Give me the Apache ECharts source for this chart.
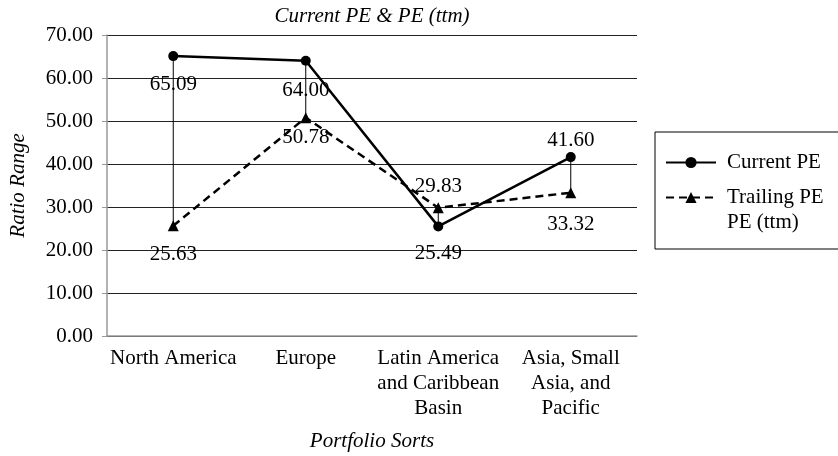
<!DOCTYPE html>
<html>
<head>
<meta charset="utf-8">
<script src="https://cdn.jsdelivr.net/npm/echarts@6/dist/echarts.min.js"></script>
<style>
  html, body { margin: 0; padding: 0; background: #fff; }
  #chart { width: 838px; height: 456px; }
</style>
</head>
<body>
<div id="chart"></div>
<script>
// Regions sorted into portfolios
const categories = [
  'North America',
  'Europe',
  'Latin America\nand Caribbean\nBasin',
  'Asia, Small\nAsia, and\nPacific'
];
// Price/earnings ratios per region
const currentPE = [65.09, 64.00, 25.49, 41.60];
const trailingPE = [25.63, 50.78, 29.83, 33.32];
// Where each value label sits relative to its marker
const currentLabelPos = ['bottom', 'bottom', 'bottom', 'top'];
const trailingLabelPos = ['bottom', 'bottom', 'top', 'bottom'];
const yTicks = [0, 10, 20, 30, 40, 50, 60, 70];

const FONT = 'Liberation Serif';
const FS = 21;
const chart = echarts.init(document.getElementById('chart'), null, { renderer: 'canvas' });

function labelled(values, positions, distances) {
  return values.map((v, i) => ({
    value: v,
    label: { position: positions[i], distance: distances[i] }
  }));
}

const option = {
  backgroundColor: '#fff',
  animation: false,
  textStyle: { fontFamily: FONT, color: '#000' },
  title: {
    text: 'Current PE & PE (ttm)',
    left: 367,
    textAlign: 'center',
    top: 1,
    textStyle: { fontFamily: FONT, fontStyle: 'italic', fontWeight: 'normal', fontSize: FS, color: '#000' }
  },
  legend: {
    orient: 'vertical',
    left: 655,
    top: 132,
    padding: [18, 40, 14, 10],
    borderColor: '#000',
    borderWidth: 1,
    itemWidth: 50,
    itemHeight: 14,
    itemGap: -15,
    // a leading blank line keeps the icon level with the first line of a two-line name
    formatter: name => (name.indexOf('\n') >= 0 ? '\n' + name : name),
    textStyle: { fontFamily: FONT, fontSize: FS, color: '#000', lineHeight: 25, padding: [0, 0, 0, 6] },
    data: [
      { name: 'Current PE' },
      { name: 'Trailing PE\nPE (ttm)' }
    ]
  },
  grid: { left: 107, right: 201, top: 35, bottom: 120, containLabel: false, outerBoundsMode: 'none' },
  xAxis: {
    type: 'category',
    data: categories,
    boundaryGap: true,
    name: 'Portfolio Sorts',
    nameLocation: 'middle',
    nameGap: 95,
    nameTextStyle: { fontFamily: FONT, fontStyle: 'italic', fontSize: FS, color: '#000' },
    axisLine: { lineStyle: { color: '#999', width: 1.5 } },
    axisTick: { show: false },
    axisLabel: { fontFamily: FONT, fontSize: FS, color: '#000', lineHeight: 25, margin: 10, interval: 0 }
  },
  yAxis: {
    type: 'value',
    min: yTicks[0],
    max: yTicks[yTicks.length - 1],
    interval: 10,
    name: 'Ratio Range',
    nameLocation: 'middle',
    nameGap: 78,
    nameRotate: 90,
    nameTextStyle: { fontFamily: FONT, fontStyle: 'italic', fontSize: FS, color: '#000' },
    axisLine: { show: true, lineStyle: { color: '#999', width: 1.5 } },
    axisTick: { show: true, length: 5, lineStyle: { color: '#999' } },
    axisLabel: {
      fontFamily: FONT, fontSize: FS, color: '#000', margin: 14,
      formatter: v => v.toFixed(2)
    },
    splitLine: { show: true, lineStyle: { color: '#222', width: 1 } }
  },
  series: [
    {
      // high-low connectors between the two ratios in each region
      type: 'custom',
      silent: true,
      z: 1,
      encode: { x: 0, y: [1, 2] },
      data: categories.map((c, i) => [i, currentPE[i], trailingPE[i]]),
      renderItem: function (params, api) {
        const a = api.coord([api.value(0), api.value(1)]);
        const b = api.coord([api.value(0), api.value(2)]);
        return {
          type: 'line',
          shape: { x1: a[0], y1: a[1], x2: b[0], y2: b[1] },
          style: { stroke: '#000', lineWidth: 1 }
        };
      }
    },
    {
      name: 'Current PE',
      type: 'line',
      z: 3,
      data: labelled(currentPE, currentLabelPos, [13, 14, 12, 1]),
      symbol: 'circle',
      symbolSize: 10,
      itemStyle: { color: '#000' },
      lineStyle: { color: '#000', width: 2.5 },
      label: {
        show: true,
        fontFamily: FONT, fontSize: FS, color: '#000',
        formatter: p => p.value.toFixed(2)
      }
    },
    {
      name: 'Trailing PE\nPE (ttm)',
      type: 'line',
      z: 2,
      data: labelled(trailingPE, trailingLabelPos, [13, 4, 5, 16]),
      symbol: 'triangle',
      symbolSize: 11,
      itemStyle: { color: '#000' },
      lineStyle: { color: '#000', width: 2.5, type: [8, 5] },
      label: {
        show: true,
        fontFamily: FONT, fontSize: FS, color: '#000',
        formatter: p => p.value.toFixed(2)
      }
    }
  ]
};

chart.setOption(option);
</script>
</body>
</html>
